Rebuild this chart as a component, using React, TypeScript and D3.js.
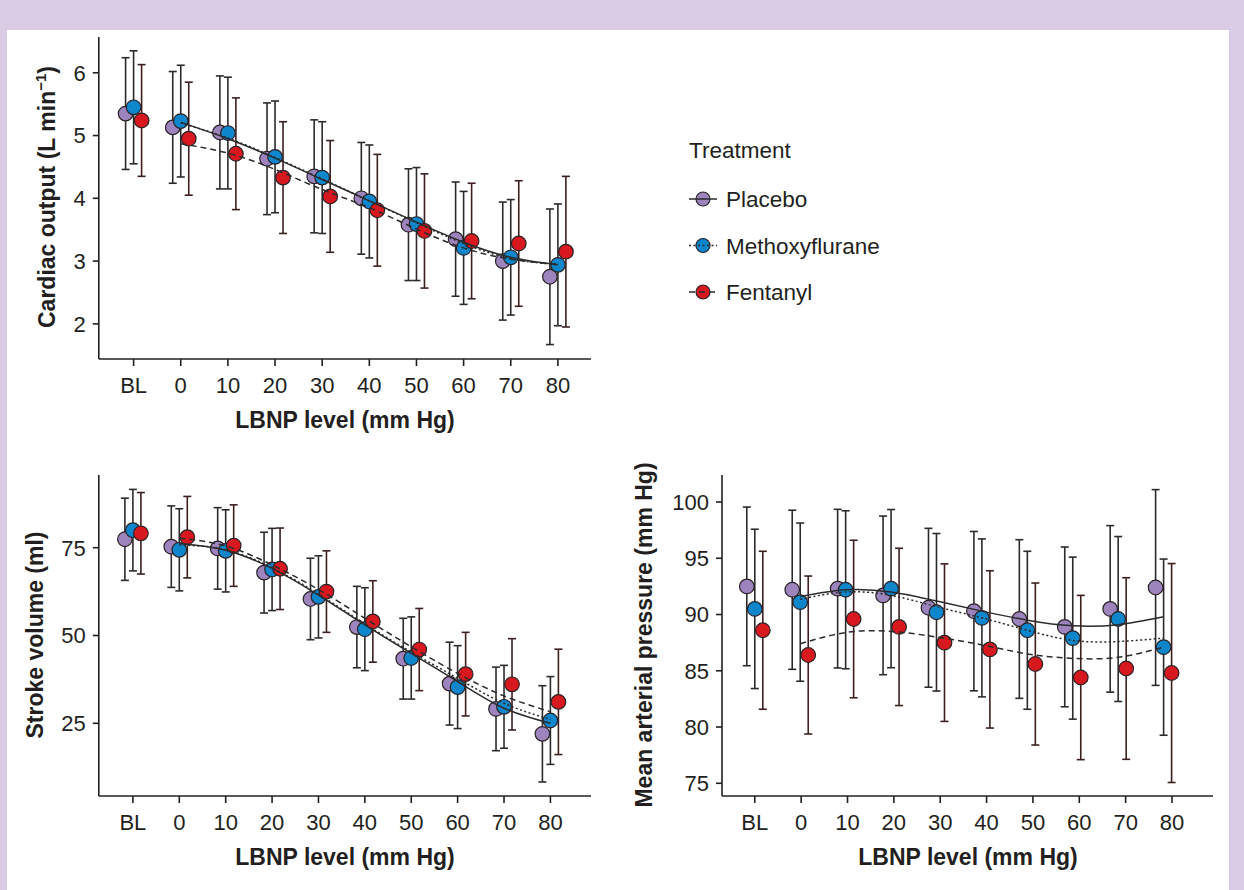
import React from "react";
import * as d3 from "d3";

const levels = ["BL", "0", "10", "20", "30", "40", "50", "60", "70", "80"];
const fitLevels = ["0", "10", "20", "30", "40", "50", "60", "70", "80"];
const treatments = ["Placebo", "Methoxyflurane", "Fentanyl"];

// Cardiac output (L/min)
const coPlacebo = [5.35, 5.13, 5.05, 4.63, 4.35, 4.0, 3.58, 3.35, 3.0, 2.75];
const coPlaceboSD = [0.89, 0.89, 0.9, 0.89, 0.9, 0.89, 0.89, 0.91, 0.94, 1.08];
const coMethoxy = [5.45, 5.23, 5.04, 4.66, 4.33, 3.95, 3.59, 3.21, 3.06, 2.94];
const coMethoxySD = [0.9, 0.89, 0.89, 0.89, 0.89, 0.9, 0.9, 0.9, 0.92, 0.97];
const coFentanyl = [5.24, 4.95, 4.71, 4.33, 4.03, 3.81, 3.48, 3.32, 3.28, 3.15];
const coFentanylSD = [0.89, 0.9, 0.89, 0.89, 0.89, 0.89, 0.91, 0.92, 1.0, 1.2];
const coFitPlacebo = [5.21, 4.95, 4.64, 4.3, 3.96, 3.62, 3.3, 3.06, 2.94];
const coFitMethoxy = [5.2, 4.96, 4.65, 4.31, 3.96, 3.61, 3.28, 3.04, 2.94];
const coFitFentanyl = [4.87, 4.72, 4.46, 4.14, 3.85, 3.51, 3.21, 3.03, 2.95];
const coTicks = [2, 3, 4, 5, 6];

// Stroke volume (ml)
const svPlacebo = [77.4, 75.3, 74.8, 67.9, 60.4, 52.4, 43.4, 36.3, 29.1, 22.0];
const svPlaceboSD = [11.7, 11.6, 11.6, 11.5, 11.6, 11.6, 11.5, 11.8, 11.9, 13.7];
const svMethoxy = [80.0, 74.4, 74.1, 68.8, 61.0, 51.8, 43.6, 35.3, 29.7, 25.8];
const svMethoxySD = [11.6, 11.7, 11.7, 11.7, 11.7, 11.8, 11.7, 11.8, 11.8, 12.5];
const svFentanyl = [79.1, 78.0, 75.6, 69.0, 62.5, 54.0, 46.0, 39.0, 36.1, 31.1];
const svFentanylSD = [11.6, 11.6, 11.6, 11.6, 11.6, 11.6, 11.7, 11.9, 13.0, 15.0];
const svFitPlacebo = [76.2, 74.3, 69.1, 61.5, 53.0, 44.9, 36.9, 29.3, 25.0];
const svFitMethoxy = [75.8, 74.4, 69.3, 61.8, 53.3, 45.3, 37.8, 30.7, 26.1];
const svFitFentanyl = [77.7, 75.5, 70.1, 63.1, 54.9, 46.8, 39.2, 32.8, 28.3];
const svTicks = [25, 50, 75];

// Mean arterial pressure (mm Hg)
const mapPlacebo = [92.5, 92.2, 92.3, 91.7, 90.6, 90.3, 89.6, 88.9, 90.5, 92.4];
const mapPlaceboSD = [7.05, 7.07, 7.05, 7.05, 7.06, 7.08, 7.05, 7.1, 7.4, 8.7];
const mapMethoxy = [90.5, 91.1, 92.2, 92.3, 90.2, 89.7, 88.6, 87.9, 89.6, 87.1];
const mapMethoxySD = [7.08, 7.03, 7.02, 7.03, 7.0, 7.02, 7.02, 7.2, 7.33, 7.83];
const mapFentanyl = [88.6, 86.4, 89.6, 88.9, 87.5, 86.9, 85.6, 84.4, 85.2, 84.8];
const mapFentanylSD = [7.02, 7.02, 7.0, 6.99, 7.0, 6.99, 7.2, 7.3, 8.07, 9.73];
const mapFitPlacebo = [91.6, 92.2, 92.0, 91.2, 90.3, 89.5, 89.0, 89.1, 89.8];
const mapFitMethoxy = [91.35, 92.0, 91.7, 90.7, 89.7, 88.6, 87.7, 87.6, 87.9];
const mapFitFentanyl = [87.4, 88.4, 88.5, 88.0, 87.3, 86.5, 86.1, 86.2, 87.1];
const mapTicks = [75, 80, 85, 90, 95, 100];

const xTitle = "LBNP level (mm Hg)";

const FONT = "'Liberation Sans', Arial, Helvetica, sans-serif";
const colors = ["#9d84bd", "#0d86cc", "#d7191f"];
const barColors = ["#2e2a2b", "#2e2a2b", "#3d1f1f"];
const dashes = [undefined, "2,2.5", "6,4"];
const offsets = [-8, 0, 8];
const INK = "#231f20";

type PanelProps = {
  xRange: [number, number];
  dotRange: [number, number];
  yDomain: [number, number];
  top: number;
  bottom: number;
  left: number;
  right: number;
  ticks: number[];
  means: number[][];
  sds: number[][];
  fits: number[][];
  yLabel: React.ReactNode;
  yLabelX: number;
  yLabelY: number;
  xLabelX: number;
};

function Panel(p: PanelProps) {
  const x = d3.scalePoint<string>().domain(levels).range(p.xRange);
  const xd = d3.scalePoint<string>().domain(levels).range(p.dotRange);
  const y = d3.scaleLinear().domain(p.yDomain).range([p.bottom, p.top]);
  const line = d3
    .line<number>()
    .x((_, i) => xd(fitLevels[i]) as number)
    .y((d) => y(d))
    .curve(d3.curveNatural);
  return (
    <g>
      <line x1={p.left} x2={p.left} y1={p.top} y2={p.bottom} stroke={INK} strokeWidth={1.6} />
      <line x1={p.left} x2={p.right} y1={p.bottom} y2={p.bottom} stroke={INK} strokeWidth={1.6} />
      {p.ticks.map((t) => (
        <g key={"yt" + t}>
          <line x1={p.left - 6} x2={p.left} y1={y(t)} y2={y(t)} stroke={INK} strokeWidth={1.6} />
          <text x={p.left - 13} y={y(t)} dy="0.36em" textAnchor="end" fontSize={22} fill={INK} fontFamily={FONT}>
            {t}
          </text>
        </g>
      ))}
      {levels.map((l) => (
        <g key={"xt" + l}>
          <line x1={x(l)} x2={x(l)} y1={p.bottom} y2={p.bottom + 7} stroke={INK} strokeWidth={1.6} />
          <text x={x(l)} y={p.bottom + 34} textAnchor="middle" fontSize={22} fill={INK} fontFamily={FONT}>
            {l}
          </text>
        </g>
      ))}
      <text x={p.xLabelX} y={p.bottom + 69} textAnchor="middle" fontSize={23} fontWeight="bold" fill={INK} fontFamily={FONT}>
        {xTitle}
      </text>
      <text
        transform={`translate(${p.yLabelX},${p.yLabelY}) rotate(-90)`}
        textAnchor="middle"
        dy="0.35em"
        fontSize={23}
        fontWeight="bold"
        fill={INK}
        fontFamily={FONT}
      >
        {p.yLabel}
      </text>
      {p.means.map((ms, s) =>
        ms.map((m, i) => {
          const cx = (xd(levels[i]) as number) + offsets[s];
          const y1 = y(m + p.sds[s][i]);
          const y2 = y(m - p.sds[s][i]);
          return (
            <g key={`eb${s}-${i}`} stroke={barColors[s]} strokeWidth={1.6}>
              <line x1={cx} x2={cx} y1={y1} y2={y2} />
              <line x1={cx - 4} x2={cx + 4} y1={y1} y2={y1} />
              <line x1={cx - 4} x2={cx + 4} y1={y2} y2={y2} />
            </g>
          );
        })
      )}
      {p.means.map((ms, s) =>
        ms.map((m, i) => (
          <circle
            key={`pt${s}-${i}`}
            cx={(xd(levels[i]) as number) + offsets[s]}
            cy={y(m)}
            r={7.3}
            fill={colors[s]}
            stroke="#2a2226"
            strokeWidth={1.2}
          />
        ))
      )}
      {p.fits.map((f, s) => (
        <path
          key={"fit" + s}
          d={line(f) || ""}
          fill="none"
          stroke="#2b2b2b"
          strokeWidth={1.5}
          strokeDasharray={dashes[s]}
        />
      ))}
    </g>
  );
}

function Legend() {
  const lx = 689;
  const rows = [199, 245.5, 292];
  return (
    <g fontFamily={FONT} fill={INK}>
      <text x={lx} y={157.5} fontSize={22.5}>
        Treatment
      </text>
      {treatments.map((t, i) => (
        <g key={t}>
          <circle cx={lx + 14} cy={rows[i]} r={7} fill={colors[i]} stroke="#2a2226" strokeWidth={1.2} />
          <line
            x1={lx}
            x2={lx + 28}
            y1={rows[i]}
            y2={rows[i]}
            stroke="#2b2b2b"
            strokeWidth={1.5}
            strokeDasharray={dashes[i]}
          />
          <text x={lx + 37} y={rows[i]} dy="0.36em" fontSize={22.5}>
            {t}
          </text>
        </g>
      ))}
    </g>
  );
}

export default function App() {
  return (
    <svg
      width={1244}
      height={890}
      style={{ position: "absolute", left: 0, top: 0, display: "block" }}
    >
      <rect x={0} y={0} width={1244} height={890} fill="#d8cbe3" />
      <rect x={7} y={30} width={1222} height={860} fill="#ffffff" />
      <Panel
        xRange={[133.6, 557.9]}
        dotRange={[133.6, 557.9]}
        yDomain={[1.44, 6.57]}
        top={37}
        bottom={359}
        left={98.8}
        right={591}
        ticks={coTicks}
        means={[coPlacebo, coMethoxy, coFentanyl]}
        sds={[coPlaceboSD, coMethoxySD, coFentanylSD]}
        fits={[coFitPlacebo, coFitMethoxy, coFitFentanyl]}
        yLabel={
          <>
            Cardiac output (L min
            <tspan fontSize={15} dy={-9}>
              −1
            </tspan>
            <tspan dy={9}>)</tspan>
          </>
        }
        yLabelX={47}
        yLabelY={197}
        xLabelX={345}
      />
      <Panel
        xRange={[132.9, 550.4]}
        dotRange={[132.9, 550.4]}
        yDomain={[4.3, 95.7]}
        top={475}
        bottom={796}
        left={98.8}
        right={591}
        ticks={svTicks}
        means={[svPlacebo, svMethoxy, svFentanyl]}
        sds={[svPlaceboSD, svMethoxySD, svFentanylSD]}
        fits={[svFitPlacebo, svFitMethoxy, svFitFentanyl]}
        yLabel={"Stroke volume (ml)"}
        yLabelX={35}
        yLabelY={635}
        xLabelX={345}
      />
      <Panel
        xRange={[754.8, 1172]}
        dotRange={[754.8, 1163.6]}
        yDomain={[73.87, 102.4]}
        top={475}
        bottom={796}
        left={722}
        right={1213}
        ticks={mapTicks}
        means={[mapPlacebo, mapMethoxy, mapFentanyl]}
        sds={[mapPlaceboSD, mapMethoxySD, mapFentanylSD]}
        fits={[mapFitPlacebo, mapFitMethoxy, mapFitFentanyl]}
        yLabel={"Mean arterial pressure (mm Hg)"}
        yLabelX={644}
        yLabelY={635}
        xLabelX={968}
      />
      <Legend />
    </svg>
  );
}
